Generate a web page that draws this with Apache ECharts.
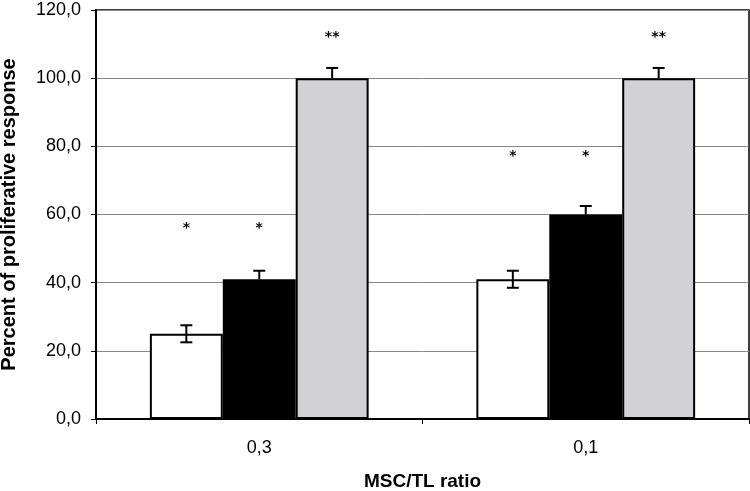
<!DOCTYPE html>
<html><head><meta charset="utf-8">
<script src="https://cdn.jsdelivr.net/npm/echarts@6/dist/echarts.min.js"></script>
<style>html,body{margin:0;padding:0;background:#fff}#c{width:750px;height:491px}</style>
</head><body><div id="c"></div>
<script>
const categories = ['0,3', '0,1'];
const whiteValues = [25, 41];
const blackValues = [41, 60];
const grayValues = [100, 100];
const whiteErr = [2.5, 2.5];
const blackErr = [2.5, 2.5];
const grayErr = [3, 3];
const starLabels = [['*', '*', '**'], ['*', '*', '**']];
const starHeights = [[56, 56, 112], [77, 77, 112]];
const yMin = 0, yMax = 120, yStep = 20;

const GAP = 0.33;
const barStyle = (c) => ({ color: c, borderColor: '#000', borderWidth: 2 });

const errData = [];
[[whiteValues, whiteErr, 1], [blackValues, blackErr, 0], [grayValues, grayErr, 0]].forEach((s, b) => {
  s[0].forEach((v, i) => errData.push([i, v, s[1][i], b, s[2]]));
});
const starData = [];
starLabels.forEach((row, i) => row.forEach((t, b) => starData.push([i, starHeights[i][b], b, t])));

function barX(api, cat) {
  const band = api.size([1, 0])[0];
  const w = band * (1 - GAP) / 3;
  return { w, cx: (b) => api.coord([cat, 0])[0] + (b - 1) * w };
}

const chart = echarts.init(document.getElementById('c'));
chart.setOption({
  animation: false,
  grid: { left: 96, right: 1, top: 10, bottom: 72, show: true, borderColor: '#000', borderWidth: 1.5,
    outerBoundsMode: 'none', containLabel: false },
  xAxis: {
    type: 'category', data: categories,
    name: 'MSC/TL ratio', nameLocation: 'middle', nameGap: 53,
    nameTextStyle: { fontFamily: 'Liberation Sans', fontWeight: 'bold', fontSize: 19, color: '#000' },
    axisLine: { lineStyle: { color: '#000', width: 2 } },
    axisTick: { show: true, length: 5, lineStyle: { color: '#000' } },
    axisLabel: { fontFamily: 'Liberation Sans', fontSize: 18, color: '#000', margin: 20 }
  },
  yAxis: {
    type: 'value', min: yMin, max: yMax, interval: yStep,
    name: 'Percent of proliferative response', nameLocation: 'middle', nameGap: 77,
    nameTextStyle: { fontFamily: 'Liberation Sans', fontWeight: 'bold', fontSize: 20, color: '#000' },
    axisLine: { show: true, lineStyle: { color: '#000', width: 2 } },
    axisTick: { show: true, length: 5, lineStyle: { color: '#000' } },
    axisLabel: { fontFamily: 'Liberation Sans', fontSize: 18, color: '#000', margin: 15,
      formatter: (v) => v.toFixed(1).replace('.', ',') },
    splitLine: { lineStyle: { color: '#888', width: 1 } }
  },
  series: [
    { type: 'bar', data: whiteValues, barGap: '0%', barCategoryGap: (GAP * 100) + '%', itemStyle: barStyle('#ffffff') },
    { type: 'bar', data: blackValues, barGap: '0%', barCategoryGap: (GAP * 100) + '%', itemStyle: barStyle('#000000') },
    { type: 'bar', data: grayValues, barGap: '0%', barCategoryGap: (GAP * 100) + '%', itemStyle: barStyle('#d2d2d4') },
    {
      type: 'custom', z: 10, data: errData,
      renderItem: (params, api) => {
        const cat = api.value(0), v = api.value(1), e = api.value(2), b = api.value(3), two = api.value(4);
        const x = barX(api, cat).cx(b);
        const yt = api.coord([cat, v + e])[1];
        const yb = api.coord([cat, two ? v - e : v])[1];
        const cap = 6;
        const st = { stroke: '#000', lineWidth: 2 };
        const ch = [
          { type: 'line', shape: { x1: x, y1: yt, x2: x, y2: yb }, style: st },
          { type: 'line', shape: { x1: x - cap, y1: yt, x2: x + cap, y2: yt }, style: st }
        ];
        if (two) ch.push({ type: 'line', shape: { x1: x - cap, y1: yb, x2: x + cap, y2: yb }, style: st });
        return { type: 'group', children: ch };
      }
    },
    {
      type: 'custom', z: 10, data: starData,
      renderItem: (params, api) => {
        const cat = api.value(0), h = api.value(1), b = api.value(2);
        const t = starData[params.dataIndex][3];
        const x = barX(api, cat).cx(b);
        const y = api.coord([cat, h])[1];
        return { type: 'text', style: { text: t, x: x, y: y, align: 'center', verticalAlign: 'middle',
          fontFamily: 'DejaVu Sans', fontWeight: 'bold', fontSize: 14, fill: '#000' } };
      }
    }
  ]
});
</script></body></html>
